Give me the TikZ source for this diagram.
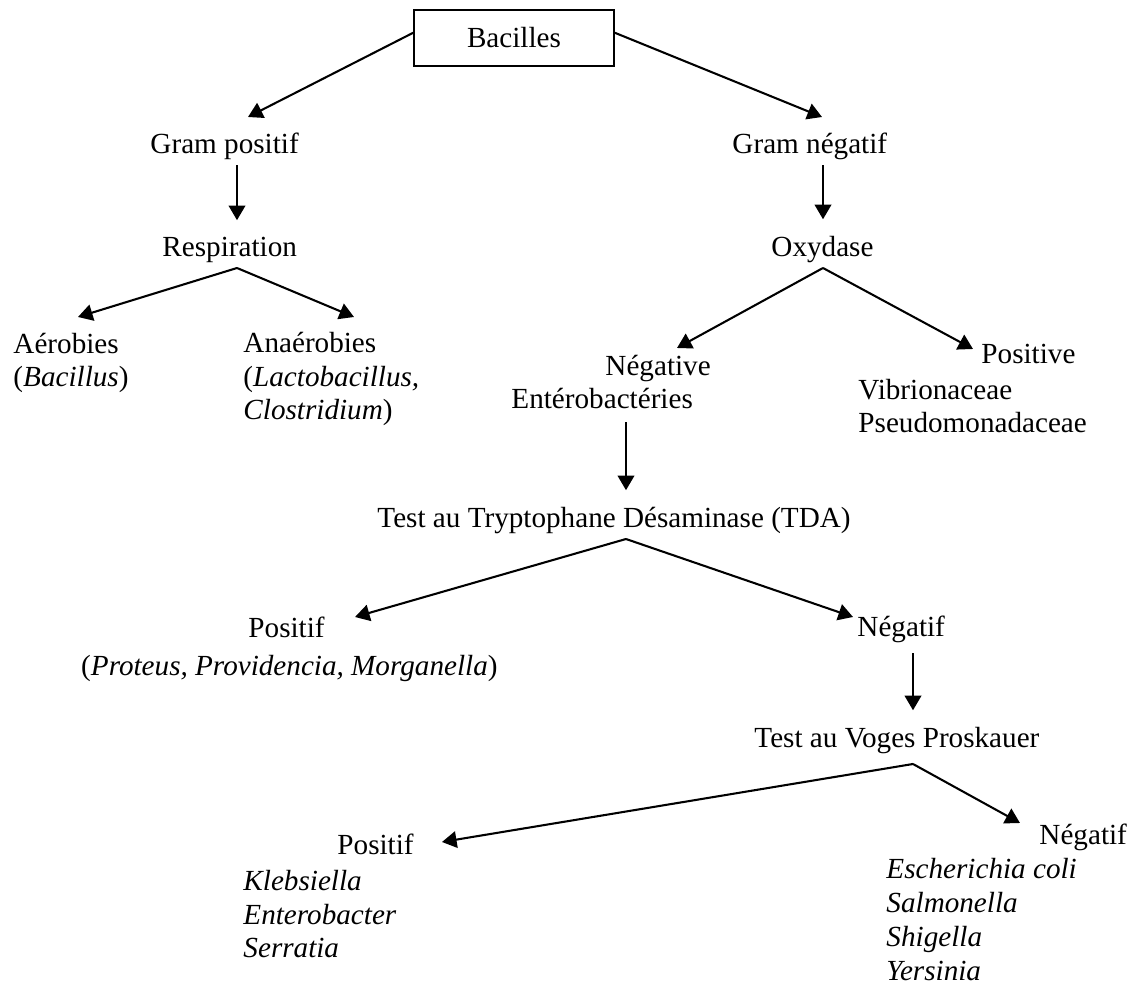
\documentclass[tikz,border=0pt]{standalone}
\usepackage{fontspec}
\setmainfont{Liberation Serif}
\usetikzlibrary{arrows.meta, positioning}
\tikzset{
  rootbox/.style={draw, line width=0.6pt, minimum width=82.3pt, minimum height=23pt, inner sep=0pt},
  txt/.style={inner sep=0pt, anchor=base west, align=left},
  arr/.style={-{Triangle[length=6pt, width=6.8pt]}, line width=0.85pt},
  darr/.style={arr, shorten >=7pt},
}

\begin{document}
\begin{tikzpicture}[x=0.4115pt, y=-0.4115pt, every node/.style={font=\fontsize{12}{13.9}\selectfont}]
  \useasboundingbox (0,0) rectangle (1134,985);

  \node[rootbox] (bac) at (514,38) {Bacilles};

  \node[txt] (gpos) at (150,154) {Gram positif};
  \node[txt] (gneg) at (732,154) {Gram négatif};
  \node[txt] (resp) at (162,257) {Respiration};
  \node[txt] (oxy) at (771,257) {Oxydase};

  % multi-line nodes sit on their last baseline
  \node[txt] (aero) at (13,387) {Aérobies\\(\textit{Bacillus})};
  \node[txt] (anae) at (243,420) {Anaérobies\\(\textit{Lactobacillus,}\\\textit{Clostridium})};

  \node[txt] (oneg) at (605,376) {Négative};
  \node[txt] (entero) at (511,409) {Entérobactéries};
  \node[txt] (opos) at (981,364) {Positive};
  \node[txt] (ofam) at (858,433) {Vibrionaceae\\Pseudomonadaceae};

  \node[txt] (tda) at (377,528) {Test au Tryptophane Désaminase (TDA)};
  \node[txt] (tpos) at (248,638) {Positif};
  \node[txt, anchor=base east] (tgen) at (498,676) {(\textit{Proteus, Providencia, Morganella})};
  \node[txt] (tneg) at (857,637) {Négatif};

  \node[txt] (vp) at (754,748) {Test au Voges Proskauer};
  \node[txt] (vpos) at (337,854) {Positif};
  \node[txt] (vposgen) at (243,958) {\textit{Klebsiella}\\\textit{Enterobacter}\\\textit{Serratia}};
  \node[txt] (vneg) at (1039,845) {Négatif};
  \node[txt] (vneggen) at (886,980) {\textit{Escherichia coli}\\\textit{Salmonella}\\\textit{Shigella}\\\textit{Yersinia}};

  \coordinate (resp-j) at (237,268);
  \coordinate (oxy-j) at (823,268);
  \coordinate (tda-j) at (626,539);
  \coordinate (vp-j) at (913,764);

  \coordinate (gpos-in) at (248,117);
  \coordinate (gneg-in) at (822,117);
  \coordinate (aero-in) at (78,317);
  \coordinate (anae-in) at (354,317);
  \coordinate (oneg-in) at (677,348);
  \coordinate (opos-in) at (973,349);
  \coordinate (tpos-in) at (355,617);
  \coordinate (tneg-in) at (853,617);
  \coordinate (vpos-in) at (442,842);
  \coordinate (vneg-in) at (1020,823);

  \draw[arr] (bac.177) -- (gpos-in);
  \draw[arr] (bac.3) -- (gneg-in);

  \draw[darr, shorten <=1.9pt] (resp-j |- gpos.south) -- (resp-j |- resp.north);
  \draw[darr, shorten <=1.9pt] (oxy-j |- gneg.south) -- (oxy-j |- oxy.north);
  \draw[darr, shorten <=5.2pt] (tda-j |- entero.south) -- (tda-j |- tda.north);
  \draw[darr, shorten <=4pt] (vp-j |- tneg.south) -- (vp-j |- vp.north);

  \draw[arr] (resp-j) -- (aero-in);
  \draw[arr] (resp-j) -- (anae-in);
  \draw[arr] (oxy-j) -- (oneg-in);
  \draw[arr] (oxy-j) -- (opos-in);
  \draw[arr] (tda-j) -- (tpos-in);
  \draw[arr] (tda-j) -- (tneg-in);
  \draw[arr] (vp-j) -- (vpos-in);
  \draw[arr] (vp-j) -- (vneg-in);
\end{tikzpicture}
\end{document}
